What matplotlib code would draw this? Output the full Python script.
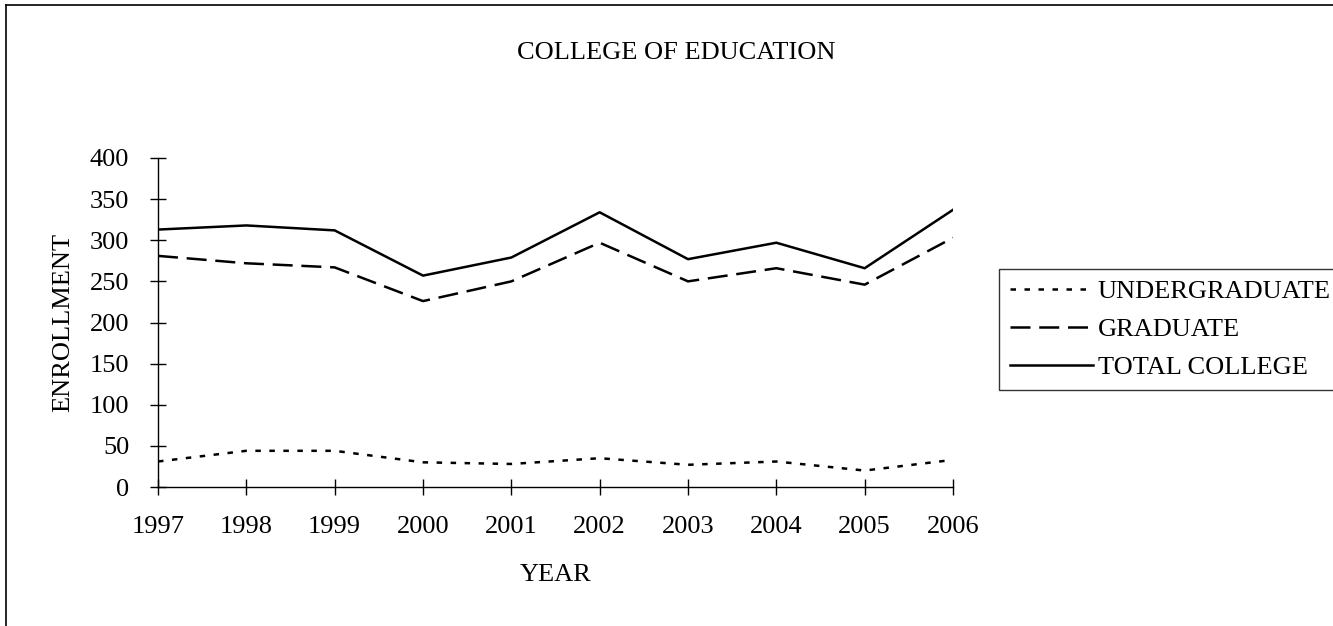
import matplotlib
matplotlib.use("Agg")
import matplotlib.pyplot as plt
from matplotlib.lines import Line2D

plt.rcParams['font.family'] = ['Liberation Serif', 'DejaVu Serif']

# data
years = [1997, 1998, 1999, 2000, 2001, 2002, 2003, 2004, 2005, 2006]
undergrad = [31, 44, 44, 30, 28, 35, 27, 31, 20, 33]
graduate = [281, 272, 267, 226, 250, 297, 250, 266, 246, 303]
total = [313, 318, 312, 257, 279, 334, 277, 297, 266, 337]
y_ticks = [0, 50, 100, 150, 200, 250, 300, 350, 400]

W, H = 1333, 626
FS = 19
fig = plt.figure(figsize=(W / 100, H / 100), dpi=100)
ax = fig.add_axes([158 / W, 1 - 487 / H, (953 - 158) / W, (487 - 158) / H])

ax.plot(years, undergrad, color='black', lw=1.8, linestyle=(0, (2.2, 3.4)), label='UNDERGRADUATE')
ax.plot(years, graduate, color='black', lw=1.8, linestyle=(0, (8, 3.5)), label='GRADUATE')
ax.plot(years, total, color='black', lw=1.8, label='TOTAL COLLEGE')

ax.set_xlim(1997, 2006)
ax.set_ylim(0, 400)
ax.set_xticks(years)
ax.set_yticks(y_ticks)
ax.tick_params(direction='inout', length=11.5, width=1, pad=15, labelsize=FS, colors='black')
for s in ['top', 'right']:
    ax.spines[s].set_visible(False)
for s in ['left', 'bottom']:
    ax.spines[s].set_linewidth(1)
    ax.spines[s].set_color('black')
ax.set_facecolor('none')

ax.set_ylabel('ENROLLMENT', fontsize=FS)
ax.yaxis.set_label_coords(-0.105, 0.5)
ax.set_xlabel('YEAR', fontsize=FS)
ax.xaxis.set_label_coords(0.5, -0.235)

fig.text(676 / W, 1 - 59 / H, 'COLLEGE OF EDUCATION', fontsize=FS, ha='center', va='baseline')

leg = fig.legend(loc='upper left', bbox_to_anchor=(999 / W, 1 - 269 / H), bbox_transform=fig.transFigure,
                 fontsize=FS, frameon=True, fancybox=False, borderpad=0.4, borderaxespad=0,
                 handlelength=3.15, handletextpad=0.2, labelspacing=0.55)
leg.get_frame().set_edgecolor('black')
leg.get_frame().set_linewidth(1)

# outer chart border (right and bottom edges fall outside the picture)
fig.add_artist(Line2D([6 / W, 6 / W], [0, 1 - 5 / H], color='black', lw=1.2, transform=fig.transFigure))
fig.add_artist(Line2D([6 / W, 1], [1 - 5 / H, 1 - 5 / H], color='black', lw=1.2, transform=fig.transFigure))

fig.savefig('out.png', dpi=100)
